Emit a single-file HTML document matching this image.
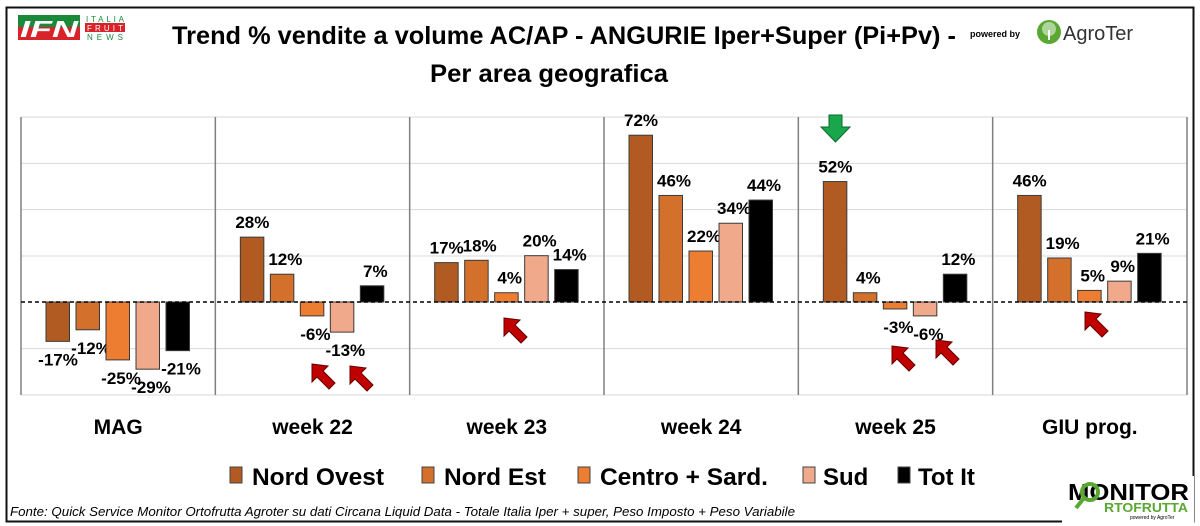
<!DOCTYPE html>
<html><head><meta charset="utf-8"><style>
html,body{margin:0;padding:0;background:#fff}
svg{display:block}
text{font-family:"Liberation Sans",sans-serif;font-weight:bold}
</style></head><body>
<svg id="s" width="1200" height="526" viewBox="0 0 1200 526" xmlns="http://www.w3.org/2000/svg">
<rect x="0" y="0" width="1200" height="526" fill="#fff"/>
<rect x="6.5" y="7.5" width="1187" height="514" fill="none" stroke="#111" stroke-width="2"/>
<!-- IFN logo -->
<path d="M18 15 H80 V27 H18 Z" fill="#1a8a3a"/>
<path d="M18 27 H80 V40 H18 Z" fill="#d8232a"/>
<text x="20" y="37" font-size="23" fill="#fff" style="font-style:italic" textLength="58" lengthAdjust="spacingAndGlyphs">IFN</text>
<text x="86" y="22" font-size="8" fill="#1a8a3a" style="font-weight:normal" textLength="38">ITALIA</text>
<rect x="85" y="23" width="40" height="9" fill="#d8232a"/>
<text x="87" y="31" font-size="8" fill="#fff" style="font-weight:normal" textLength="36">FRUIT</text>
<text x="87" y="40" font-size="8" fill="#1a8a3a" style="font-weight:normal" textLength="36">NEWS</text>
<!-- title -->
<text x="172" y="44" font-size="25" textLength="784" lengthAdjust="spacingAndGlyphs">Trend % vendite a volume AC/AP - ANGURIE  Iper+Super (Pi+Pv) -</text>
<text x="430" y="82" font-size="25" textLength="238" lengthAdjust="spacingAndGlyphs">Per area geografica</text>
<!-- agroter -->
<text x="970" y="37" font-size="9">powered by</text>
<circle cx="1049" cy="32" r="12" fill="#5aa832"/>
<circle cx="1049" cy="29" r="7" fill="#fff" opacity=".5"/>
<rect x="1048" y="30" width="2" height="10" fill="#fff"/>
<text x="1063" y="40" font-size="20" fill="#333" style="font-weight:normal">AgroTer</text>
<g id="plot"></g>
<!-- legend -->
<g font-size="24">
<rect x="230" y="467" width="12" height="16" fill="#b15b22" stroke="#444"/><text x="252" y="485" textLength="132" lengthAdjust="spacingAndGlyphs">Nord Ovest</text>
<rect x="422" y="467" width="12" height="16" fill="#d2702c" stroke="#444"/><text x="444" y="485" textLength="102" lengthAdjust="spacingAndGlyphs">Nord Est</text>
<rect x="578" y="467" width="12" height="16" fill="#ed7d31" stroke="#444"/><text x="600" y="485" textLength="168" lengthAdjust="spacingAndGlyphs">Centro + Sard.</text>
<rect x="803" y="467" width="12" height="16" fill="#f0a98a" stroke="#444"/><text x="823" y="485">Sud</text>
<rect x="898" y="467" width="12" height="16" fill="#000" stroke="#444"/><text x="918" y="485">Tot It</text>
</g>
<text x="10" y="516" font-size="13" style="font-weight:normal;font-style:italic" textLength="785" lengthAdjust="spacingAndGlyphs">Fonte: Quick Service Monitor Ortofrutta Agroter su dati Circana Liquid Data - Totale Italia Iper + super, Peso Imposto + Peso Variabile</text>
<!-- monitor logo -->
<rect x="1062" y="476" width="132" height="48" fill="#fff"/>
<text x="1068" y="500" font-size="23" style="font-weight:900" textLength="121" lengthAdjust="spacingAndGlyphs">MONITOR</text>
<circle cx="1090" cy="492" r="8" fill="none" stroke="#5aa832" stroke-width="4"/>
<line x1="1084" y1="498" x2="1076" y2="508" stroke="#5aa832" stroke-width="4"/>
<text x="1104" y="512" font-size="13" fill="#5aa832" style="font-weight:900" textLength="84" lengthAdjust="spacingAndGlyphs">RTOFRUTTA</text>
<text x="1130" y="519" font-size="5" style="font-weight:normal">powered by AgroTer</text>
</svg>
<script>
var g=document.getElementById('plot'),ns='http://www.w3.org/2000/svg';
function el(t,a,txt){var e=document.createElementNS(ns,t);for(var k in a)e.setAttribute(k,a[k]);if(txt)e.textContent=txt;g.appendChild(e);return e;}
var L=21,R=1187,T=117,B=395,Z=302,S=46.33/20,W=(R-L)/6;
for(var i=0;i<7;i++){var y=T+i*46.33;if(i!=4)el('line',{x1:L,x2:R,y1:y,y2:y,stroke:'#d9d9d9','stroke-width':1});}
for(var i=0;i<=6;i++){var x=L+i*W;if(i==6)x=R;el('line',{x1:x,x2:x,y1:T,y2:B,stroke:'#808080','stroke-width':1.5});}
var cols=['#b15b22','#d2702c','#ed7d31','#f0a98a','#000'];
var data=[[-17,-12,-25,-29,-21],[28,12,-6,-13,7],[17,18,4,20,14],[72,46,22,34,44],[52,4,-3,-6,12],[46,19,5,9,21]];
var cats=['MAG','week 22','week 23','week 24','week 25','GIU prog.'];
data.forEach(function(d,c){
 var cl=L+c*W;
 d.forEach(function(v,j){
  var x=cl+25+j*30,h=Math.abs(v)*S,y=v>=0?Z-h:Z;
  el('rect',{x:x,y:y,width:23.5,height:h,fill:cols[j],stroke:'#3a3a3a','stroke-width':1});
  var ty=v>=0?Z-h-9:Z+h+24;
  el('text',{x:x+12+(j>0?3:0),y:ty,'font-size':17,'text-anchor':'middle'},v+'%');
 });
 el('text',{x:cl+W/2,y:434,'font-size':21,'text-anchor':'middle'},cats[c]);
});
el('line',{x1:L,x2:R,y1:Z,y2:Z,stroke:'#000','stroke-width':1.5,'stroke-dasharray':'4,3'});
function ra(cx,cy){el('path',{d:'M-12,-12 L4,-10 L-1,-5 L11,7 L5,13 L-7,1 L-12,6 Z',transform:'translate('+cx+','+cy+')',fill:'#c00000',stroke:'#600','stroke-width':1});}
ra(324,376);ra(362,378);ra(516,330);ra(904,358);ra(948,352);ra(1097,324);
el('path',{d:'M829,115 H842 V127 H850 L835.5,142 L821,127 H829 Z',fill:'#1aa64a',stroke:'#0b6b2a','stroke-width':1});
</script>
</body></html>
